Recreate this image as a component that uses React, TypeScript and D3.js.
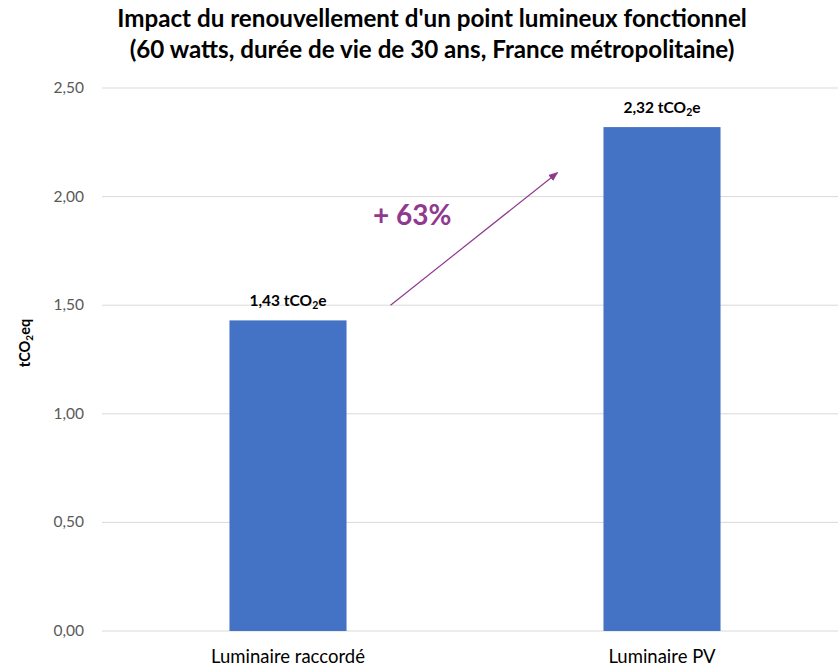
import React from "react";
import * as d3 from "d3";

const categories = ["Luminaire raccordé", "Luminaire PV"];
const values = [1.43, 2.32];
const valueLabels = ["1,43", "2,32"];
const yTicks = [0, 0.5, 1, 1.5, 2, 2.5];
const titleLines = [
  "Impact du renouvellement d'un point lumineux fonctionnel",
  "(60 watts, durée de vie de 30 ans, France métropolitaine)",
];
const increaseLabel = "+ 63%";
const arrowFrom = 1.5;
const arrowTo = 2.11;

const W = 838;
const H = 666;
const FONT = "Lato, 'Open Sans', sans-serif";
const PURPLE = "#8f3a8f";

export default function App() {
  const y = d3.scaleLinear().domain([0, 2.5]).range([631, 88]);
  const x = d3
    .scaleBand<string>()
    .domain(categories)
    .range([101, 849])
    .paddingInner(0.687)
    .paddingOuter(0.3435);
  const bw = x.bandwidth();
  const fmt = (v: number) => d3.format(".2f")(v).replace(".", ",");

  const ax1 = (x(categories[0]) as number) + bw + 44;
  const ax2 = (x(categories[1]) as number) - 46;

  return (
    <svg width={W} height={H} style={{ position: "absolute", left: 0, top: 0, background: "#fff" }}>
      <defs>
        <marker id="ah" viewBox="0 0 10 10" refX="9" refY="5" markerWidth="8" markerHeight="8" orient="auto">
          <path d="M0,1 L10,5 L0,9 z" fill={PURPLE} />
        </marker>
      </defs>
      {titleLines.map((t, i) => (
        <text key={i} x={432} y={27 + i * 31} textAnchor="middle" fontFamily={FONT} fontWeight="bold" fontSize={24.2} fill="#000">
          {t}
        </text>
      ))}
      {yTicks.map((t) => (
        <g key={t}>
          <line x1={102} x2={838} y1={y(t)} y2={y(t)} stroke="#d9d9d9" strokeWidth={1} />
          <text x={84} y={y(t) + 5} textAnchor="end" fontFamily={FONT} fontSize={15.5} fill="#595959">
            {fmt(t)}
          </text>
        </g>
      ))}
      <text transform={`translate(30,343) rotate(-90)`} textAnchor="middle" fontFamily={FONT} fontWeight="bold" fontSize={14.5} fill="#000">
        tCO<tspan fontSize={10} dy={3}>2</tspan>
        <tspan dy={-3}>eq</tspan>
      </text>
      {categories.map((c, i) => (
        <g key={c}>
          <rect x={x(c)} y={y(values[i])} width={bw} height={y(0) - y(values[i])} fill="#4472c4" />
          <text x={(x(c) as number) + bw / 2} y={y(values[i]) - 14} textAnchor="middle" fontFamily={FONT} fontWeight="bold" fontSize={15.5} fill="#000">
            {valueLabels[i]} tCO<tspan fontSize={10.5} dy={3}>2</tspan>
            <tspan dy={-3}>e</tspan>
          </text>
          <text x={(x(c) as number) + bw / 2} y={663} textAnchor="middle" fontFamily={FONT} fontSize={18.5} fill="#000">
            {c}
          </text>
        </g>
      ))}
      <line x1={ax1} y1={y(arrowFrom)} x2={ax2} y2={y(arrowTo)} stroke={PURPLE} strokeWidth={1.2} markerEnd="url(#ah)" />
      <text x={373} y={225} fontFamily={FONT} fontWeight="bold" fontSize={28} fill={PURPLE}>
        {increaseLabel}
      </text>
    </svg>
  );
}
